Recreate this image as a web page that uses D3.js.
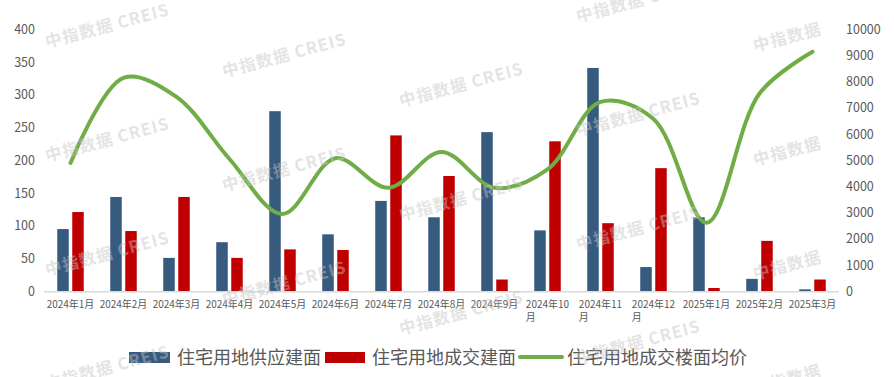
<!DOCTYPE html>
<html lang="zh">
<head>
  <meta charset="UTF-8">
  <title>住宅用地供应与成交</title>
  <style>
    body { margin: 0; background: #fff; }
    text { font-family: "Noto Sans CJK SC", "Noto Sans", sans-serif; }
  </style>
</head>
<body>
  <svg id="svg" width="894" height="377"></svg>

  <script src="https://d3js.org/d3.v7.min.js"></script>
  <script>
    // data
    const months = ['2024年1月', '2024年2月', '2024年3月', '2024年4月', '2024年5月', '2024年6月',
      '2024年7月', '2024年8月', '2024年9月', '2024年10月', '2024年11月', '2024年12月',
      '2025年1月', '2025年2月', '2025年3月']
    const supply = [95, 144, 51, 75, 275, 87, 138, 113, 243, 93, 341, 37, 113, 19, 3]
    const deal = [121, 92, 144, 51, 64, 63, 238, 176, 18, 229, 104, 188, 5, 77, 18]
    const price = [4900, 8150, 7420, 5050, 2950, 5080, 3950, 5320, 3950, 4650, 7230, 6580, 2620, 7550, 9140]

    const leftTicks = [0, 50, 100, 150, 200, 250, 300, 350, 400]
    const rightTicks = [0, 1000, 2000, 3000, 4000, 5000, 6000, 7000, 8000, 9000, 10000]

    const seriesNames = ['住宅用地供应建面', '住宅用地成交建面', '住宅用地成交楼面均价']
    const blue = '#375a7f', red = '#c00000', green = '#70ad47'

    const svg = d3.select('#svg')

    const xScale = d3.scaleBand()
      .domain(months)
      .range([44, 839])

    const yLeft = d3.scaleLinear()
      .domain([0, 400])
      .range([291.3, 29.3])

    const yRight = d3.scaleLinear()
      .domain([0, 10000])
      .range([291.3, 29.3])

    const barW = 11.5
    const gap = 3.5

    // bars
    svg.append('g')
      .selectAll('rect')
      .data(months)
      .enter()
      .append('rect')
      .attr('x', d => xScale(d) + xScale.bandwidth() / 2 - barW - gap / 2)
      .attr('y', (d, i) => yLeft(supply[i]))
      .attr('width', barW)
      .attr('height', (d, i) => yLeft(0) - yLeft(supply[i]))
      .attr('fill', blue)

    svg.append('g')
      .selectAll('rect')
      .data(months)
      .enter()
      .append('rect')
      .attr('x', d => xScale(d) + xScale.bandwidth() / 2 + gap / 2)
      .attr('y', (d, i) => yLeft(deal[i]))
      .attr('width', barW)
      .attr('height', (d, i) => yLeft(0) - yLeft(deal[i]))
      .attr('fill', red)

    // x axis line
    svg.append('line')
      .attr('x1', 44).attr('x2', 839)
      .attr('y1', yLeft(0) + 0.5).attr('y2', yLeft(0) + 0.5)
      .attr('stroke', '#d9d9d9')
      .attr('stroke-width', 1.5)

    // smoothed price line
    const line = d3.line()
      .x((d, i) => xScale(months[i]) + xScale.bandwidth() / 2)
      .y(d => yRight(d))
      .curve(d3.curveCatmullRom.alpha(0.5))

    svg.append('path')
      .attr('d', line(price))
      .attr('fill', 'none')
      .attr('stroke', green)
      .attr('stroke-width', 4)
      .attr('stroke-linecap', 'round')
      .attr('stroke-linejoin', 'round')

    // axes
    const leftAxis = svg.append('g')
      .attr('transform', 'translate(44,0)')
      .call(d3.axisLeft(yLeft).tickValues(leftTicks).tickSize(0).tickPadding(9))
    const rightAxis = svg.append('g')
      .attr('transform', 'translate(839,0)')
      .call(d3.axisRight(yRight).tickValues(rightTicks).tickSize(0).tickPadding(7).tickFormat(d3.format('d')))

    ;[leftAxis, rightAxis].forEach(a => {
      a.select('.domain').remove()
      a.selectAll('text')
        .style('font-family', '"Noto Sans CJK SC", sans-serif')
        .style('font-size', '12.5px')
        .attr('fill', '#595959')
    })

    // month labels, the long ones wrap their last character onto a second line
    const xLabels = svg.append('g')
    months.forEach(m => {
      const cx = xScale(m) + xScale.bandwidth() / 2
      const wrap = m.length > 7
      const t = xLabels.append('text')
        .attr('y', 308)
        .style('font-size', '10px')
        .attr('fill', '#595959')
      const first = t.append('tspan')
        .attr('x', cx)
        .attr('text-anchor', 'middle')
        .text(wrap ? m.slice(0, -1) : m)
      if (wrap) {
        const w = first.node().getComputedTextLength()
        t.append('tspan')
          .attr('x', cx - w / 2)
          .attr('dy', 13)
          .text(m.slice(-1))
      }
    })

    // legend
    const legend = svg.append('g')
    legend.append('rect').attr('x', 129).attr('y', 352).attr('width', 41).attr('height', 11).attr('fill', blue)
    legend.append('rect').attr('x', 325).attr('y', 352).attr('width', 40).attr('height', 11).attr('fill', red)
    legend.append('line')
      .attr('x1', 520).attr('x2', 562).attr('y1', 357).attr('y2', 357)
      .attr('stroke', green).attr('stroke-width', 4).attr('stroke-linecap', 'round')
    const legendX = [177, 372, 567]
    seriesNames.forEach((name, i) => {
      legend.append('text')
        .attr('x', legendX[i])
        .attr('y', 363.5)
        .style('font-size', '18px')
        .attr('fill', '#595959')
        .text(name)
    })

    // watermark, a tilted grid over the whole picture
    const marks = svg.append('g')
      .attr('pointer-events', 'none')
    for (let c = 0; c < 5; c++) {
      const x = 47 + 177 * c
      let y = 48 + 29.5 * c
      while (y > 135) y -= 114
      for (; y < 400; y += 114) {
        if (y < 15) continue
        marks.append('text')
          .attr('transform', `translate(${x},${y}) rotate(-15)`)
          .style('font-size', '16.5px')
          .style('font-weight', 'bold')
          .style('letter-spacing', '1px')
          .attr('fill', '#c4c4c4')
          .attr('opacity', 0.45)
          .text(c === 4 ? '中指数据' : '中指数据  CREIS')
      }
    }
  </script>
</body>
</html>
